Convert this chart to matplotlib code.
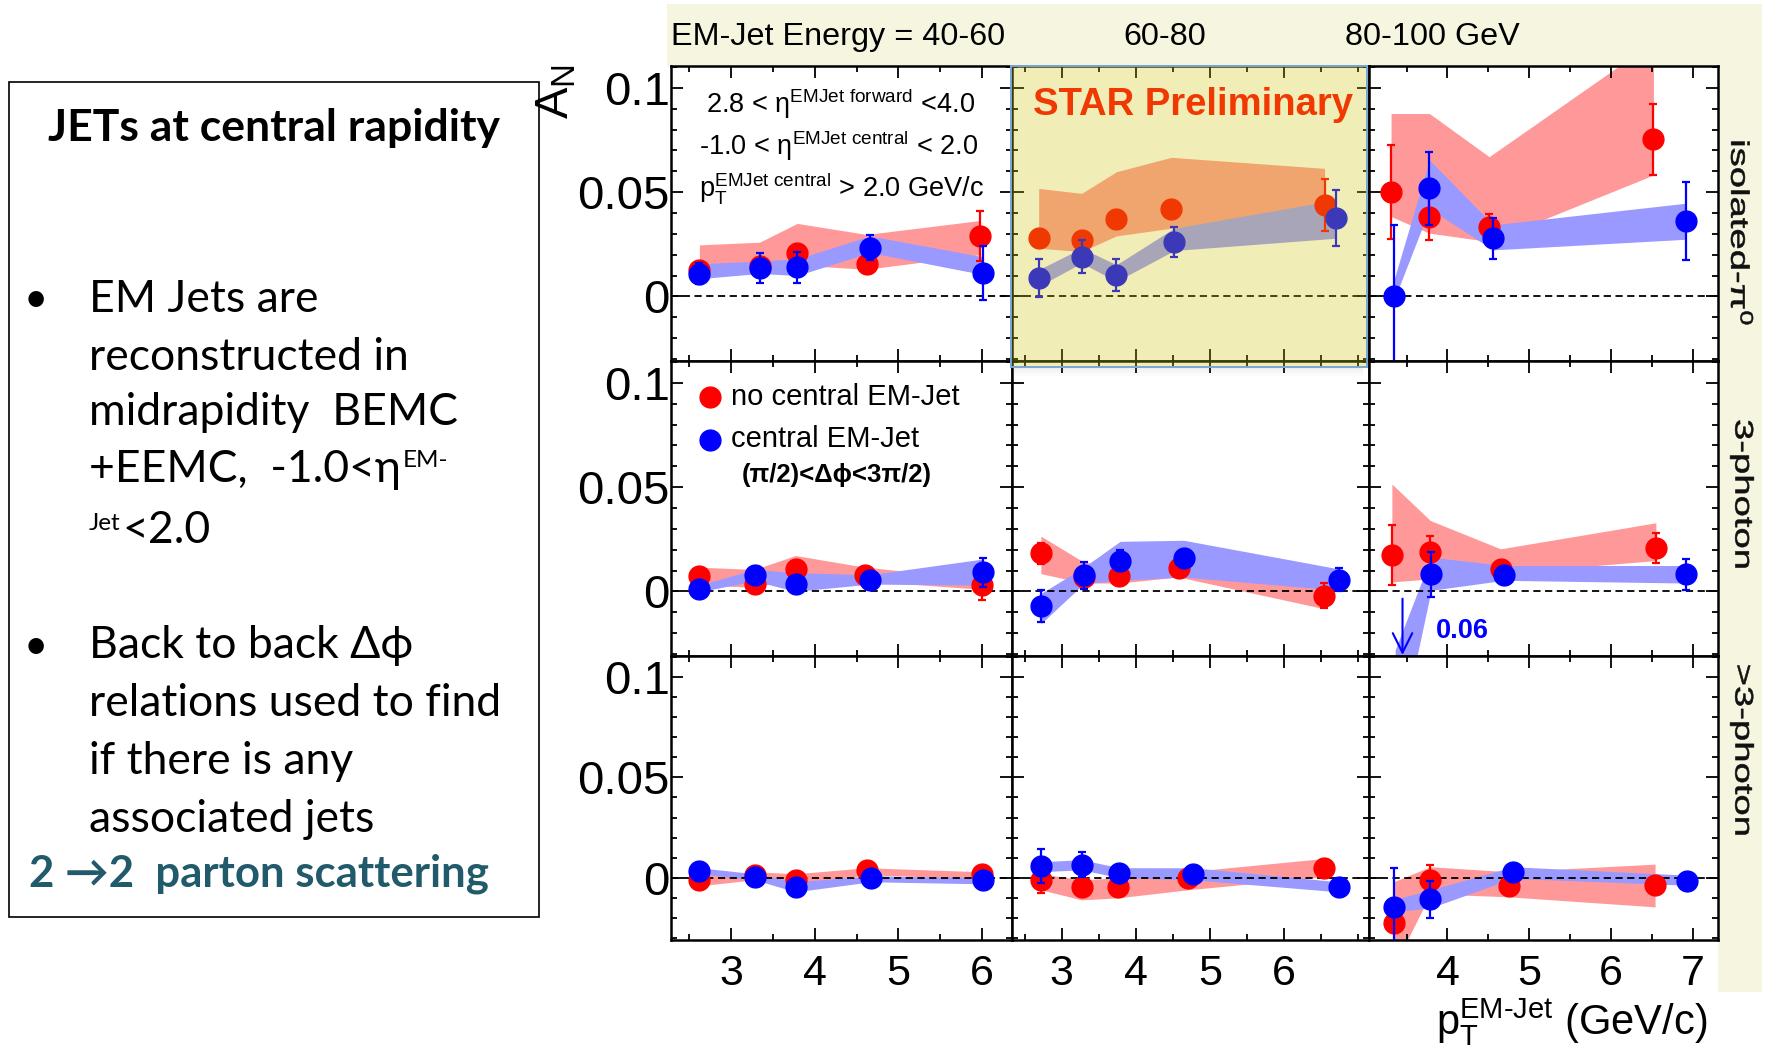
import matplotlib
matplotlib.use('Agg')
import matplotlib.pyplot as plt
from matplotlib.patches import Rectangle, PathPatch
from matplotlib.textpath import TextPath
from matplotlib.font_manager import FontProperties
from matplotlib.transforms import Affine2D
from matplotlib.ticker import MultipleLocator
from matplotlib.text import Annotation

W, H = 1771, 1051

plt.rcParams['font.family'] = ['Liberation Sans', 'DejaVu Sans']
plt.rcParams['mathtext.fontset'] = 'custom'
plt.rcParams['mathtext.rm'] = 'Liberation Sans'
plt.rcParams['mathtext.it'] = 'Liberation Sans:italic'
plt.rcParams['mathtext.bf'] = 'Liberation Sans:bold'

# columns: EM-jet energy bins, rows: photon multiplicity classes
energy_bins = ['EM-Jet Energy = 40-60', '60-80', '80-100 GeV']
photon_classes = [r'isolated-$\mathregular{π^0}$', '3-photon', '>3-photon']
xticks = [[3, 4, 5, 6], [3, 4, 5, 6], [4, 5, 6, 7]]
yticks = [0, 0.05, 0.1]
ytick_labels = ['0', '0.05', '0.1']

# "no central EM-Jet" (red) ; [row][col]
red_pt = [
    [[2.62, 3.34, 3.79, 4.62, 5.98], [2.69, 3.27, 3.74, 4.48, 6.55], [3.31, 3.78, 4.51, 6.52]],
    [[2.62, 3.28, 3.77, 4.60, 6.00], [2.72, 3.30, 3.78, 4.58, 6.54], [3.32, 3.79, 4.65, 6.55]],
    [[2.62, 3.28, 3.77, 4.62, 6.00], [2.72, 3.27, 3.76, 4.70, 6.54], [3.34, 3.79, 4.75, 6.54]],
]
red_an = [
    [[0.0128, 0.0148, 0.0207, 0.0156, 0.029], [0.0282, 0.0271, 0.0372, 0.0418, 0.0439], [0.0499, 0.038, 0.0332, 0.0753]],
    [[0.0072, 0.0037, 0.0108, 0.008, 0.0029], [0.0183, 0.0069, 0.0072, 0.0113, -0.0021], [0.0175, 0.019, 0.0108, 0.0207]],
    [[-0.0012, 0.0013, -0.0012, 0.0038, 0.0018], [-0.0012, -0.0048, -0.0045, -0.0003, 0.0051], [-0.0224, -0.0012, -0.0042, -0.0037]],
]
red_err = [
    [[0.002, 0.003, 0.003, 0.003, 0.012], [0.003, 0.003, 0.003, 0.003, 0.0126], [0.0226, 0.011, 0.0062, 0.017]],
    [[0.002, 0.002, 0.002, 0.002, 0.007], [0.005, 0.003, 0.002, 0.003, 0.006], [0.0145, 0.0075, 0.002, 0.0072]],
    [[0.0015, 0.0015, 0.0015, 0.0015, 0.0015], [0.0065, 0.002, 0.002, 0.002, 0.002], [0.002, 0.0075, 0.002, 0.002]],
]
red_lo = [
    [[0.011, 0.012, 0.015, 0.013, 0.020], [0.0231, 0.0215, 0.029, 0.0327, 0.040], [0.0383, 0.0303, 0.0263, 0.0582]],
    [[0.003, 0.002, 0.006, 0.005, 0.001], [0.0085, 0.004, 0.004, 0.0069, -0.0083], [0.0045, 0.006, 0.0085, 0.0148]],
    [[-0.004, -0.001, -0.004, 0.0015, -0.0005], [-0.006, -0.011, -0.010, -0.006, 0.0005], [-0.045, -0.008, -0.0095, -0.0145]],
]
red_hi = [
    [[0.0247, 0.026, 0.035, 0.0297, 0.0364], [0.0518, 0.0494, 0.0598, 0.0667, 0.0614], [0.0877, 0.0877, 0.067, 0.122]],
    [[0.0116, 0.0105, 0.0172, 0.0116, 0.006], [0.0265, 0.014, 0.012, 0.016, 0.002], [0.0515, 0.034, 0.0204, 0.0329]],
    [[0.0015, 0.003, 0.002, 0.005, 0.003], [0.002, -0.001, 0.0, 0.003, 0.0096], [-0.002, 0.0055, 0.003, 0.0068]],
]

# "central EM-Jet" (blue) ; [row][col]
blue_pt = [
    [[2.62, 3.34, 3.79, 4.66, 6.01], [2.69, 3.27, 3.74, 4.52, 6.71], [3.34, 3.78, 4.56, 6.92]],
    [[2.62, 3.28, 3.77, 4.66, 6.01], [2.72, 3.30, 3.79, 4.65, 6.74], [3.36, 3.80, 4.69, 6.92]],
    [[2.62, 3.28, 3.77, 4.67, 6.01], [2.72, 3.27, 3.78, 4.77, 6.74], [3.34, 3.79, 4.80, 6.93]],
]
blue_an = [
    [[0.0108, 0.0136, 0.014, 0.0234, 0.0112], [0.0088, 0.0191, 0.0104, 0.0263, 0.0375], [0.0, 0.0518, 0.0279, 0.0362]],
    [[0.0013, 0.0077, 0.0037, 0.0053, 0.0091], [-0.007, 0.0077, 0.0148, 0.016, 0.0056], [-0.06, 0.0081, 0.0077, 0.0081]],
    [[0.0033, 0.0005, -0.0048, -0.0003, -0.0012], [0.0058, 0.0066, 0.0025, 0.0018, -0.0045], [-0.0145, -0.0108, 0.0027, -0.0015]],
]
blue_err = [
    [[0.005, 0.007, 0.0074, 0.006, 0.013], [0.009, 0.0078, 0.0076, 0.0072, 0.0133], [0.034, 0.0175, 0.0098, 0.0187]],
    [[0.002, 0.003, 0.002, 0.002, 0.0068], [0.0076, 0.0064, 0.005, 0.003, 0.0056], [0.0, 0.0108, 0.002, 0.0076]],
    [[0.0015, 0.0015, 0.0015, 0.0015, 0.0015], [0.0083, 0.0062, 0.002, 0.002, 0.002], [0.0196, 0.0094, 0.002, 0.002]],
]
blue_lo = [
    [[0.0085, 0.011, 0.010, 0.021, 0.0105], [0.0048, 0.016, 0.0072, 0.022, 0.0279], [-0.0024, 0.042, 0.0223, 0.0274]],
    [[-0.0002, 0.005, 0.0, 0.0035, 0.003], [-0.0155, 0.0037, 0.0053, 0.0069, 0.0005], [-0.08, 0.0005, 0.0053, 0.004]],
    [[0.002, -0.001, -0.007, -0.002, -0.003], [0.003, 0.004, 0.0, -0.001, -0.007], [-0.017, -0.015, -0.0003, -0.0037]],
]
blue_hi = [
    [[0.0156, 0.017, 0.018, 0.029, 0.019], [0.0128, 0.0231, 0.0152, 0.0327, 0.0463], [0.0072, 0.0654, 0.0343, 0.0447]],
    [[0.003, 0.0105, 0.009, 0.008, 0.0155], [-0.001, 0.0116, 0.024, 0.0245, 0.0108], [-0.028, 0.0164, 0.0124, 0.0124]],
    [[0.005, 0.002, -0.002, 0.001, 0.0], [0.008, 0.009, 0.005, 0.005, -0.002], [-0.011, -0.006, 0.0055, 0.0013]],
]

# off-scale blue point (3-photon, 80-100 GeV)
offscale_pt = 3.45
offscale_label = '0.06'

# layout in pixels
col_px = [(671, 1012), (1012, 1369), (1369, 1718)]
row_px = [(66, 361), (361, 656), (656, 940)]
xlims = [(2.28, 6.36), (2.33, 7.15), (3.04, 7.31)]
ylim = (-0.031, 0.1105)


def fx(x):
    return x / W


def fy(y):
    return 1 - y / H


fig = plt.figure(figsize=(W / 100, H / 100), dpi=100)

# cream header strip
fig.add_artist(Rectangle((fx(667), fy(66)), (1762 - 667) / W, 62 / H, transform=fig.transFigure,
                         facecolor='#f6f5e0', lw=0, zorder=-1))
fig.add_artist(Rectangle((fx(1718), fy(992)), 44 / W, (992 - 66) / H, transform=fig.transFigure,
                         facecolor='#f6f5e0', lw=0, zorder=-1))

axes = {}
for i in range(3):
    for j in range(3):
        x0, x1 = col_px[j]
        y0, y1 = row_px[i]
        ax = fig.add_axes([fx(x0), fy(y1), (x1 - x0) / W, (y1 - y0) / H])
        axes[i, j] = ax
        ax.fill_between(red_pt[i][j], red_lo[i][j], red_hi[i][j], color='#ff9999', lw=0, zorder=1)
        ax.fill_between(blue_pt[i][j], blue_lo[i][j], blue_hi[i][j], color='#9999ff', lw=0, zorder=2)
        ax.axhline(0, color='black', lw=1.3, ls=(0, (4, 2.5)), zorder=2.5)
        ax.errorbar(red_pt[i][j], red_an[i][j], yerr=red_err[i][j], fmt='o', color='red', ms=15,
                    elinewidth=1.6, capsize=3, capthick=1.6, zorder=3)
        ax.errorbar(blue_pt[i][j], blue_an[i][j], yerr=blue_err[i][j], fmt='o', color='blue', ms=15,
                    elinewidth=1.6, capsize=3, capthick=1.6, zorder=4)
        ax.set_xlim(*xlims[j])
        ax.set_ylim(*ylim)
        ax.set_xticks(xticks[j])
        ax.xaxis.set_minor_locator(MultipleLocator(0.5))
        ax.set_yticks(yticks)
        ax.yaxis.set_minor_locator(MultipleLocator(0.01))
        ax.tick_params(which='both', direction='in', top=True, right=True, width=1.3)
        ax.tick_params(which='major', length=8.5)
        ax.tick_params(which='minor', length=4.3)
        ax.tick_params(axis='x', labelsize=31, pad=10)
        ax.tick_params(axis='y', labelsize=34, pad=1)
        for s in ax.spines.values():
            s.set_linewidth(1.8)
        if j == 0:
            ax.set_yticklabels(ytick_labels)
        else:
            ax.set_yticklabels([])
        if i < 2:
            ax.set_xticklabels([])

# eta / pT selection text
ax = axes[0, 0]
ax.text(0.103, 0.841, r'2.8 < $\mathregular{η^{EMJet\ forward}}$ <4.0', transform=ax.transAxes,
        fontsize=19.5, va='baseline')
ax.text(0.082, 0.698, r'-1.0 < $\mathregular{η^{EMJet\ central}}$ < 2.0', transform=ax.transAxes,
        fontsize=19.5, va='baseline')
ax.text(0.082, 0.556, r'$\mathregular{p_T^{EMJet\ central}}$ > 2.0 GeV/c', transform=ax.transAxes,
        fontsize=19.5, va='baseline')

# legend
ax = axes[1, 0]
ax.plot([0.114], [0.879], 'o', color='red', ms=15, transform=ax.transAxes)
ax.plot([0.114], [0.732], 'o', color='blue', ms=15, transform=ax.transAxes)
ax.text(0.176, 0.851, 'no central EM-Jet', transform=ax.transAxes, fontsize=21, va='baseline')
ax.text(0.176, 0.708, 'central EM-Jet', transform=ax.transAxes, fontsize=21, va='baseline')
ax.text(0.208, 0.59, '(π/2)<Δϕ<3π/2)', transform=ax.transAxes, fontsize=18.5, fontweight='bold',
        va='baseline')

axes[0, 1].text(0.059, 0.834, 'STAR Preliminary', transform=axes[0, 1].transAxes, fontsize=27.5,
                fontweight='bold', color='red', va='baseline')

# off-scale arrow
ax = axes[1, 2]
ax.annotate('', xy=(offscale_pt, ylim[0] + 0.0005), xytext=(offscale_pt, -0.0035),
            arrowprops=dict(arrowstyle='->,head_length=14,head_width=7', mutation_scale=1,
                            lw=1.5, color='blue', shrinkA=0, shrinkB=0),
            annotation_clip=False)
ax.text(3.86, -0.019, offscale_label, color='blue', fontsize=19.5, fontweight='bold', va='center')

# highlight box over 60-80 GeV isolated panel
fig.add_artist(Rectangle((fx(1011), fy(367)), (1367 - 1011) / W, (367 - 66) / H, transform=fig.transFigure,
                         facecolor=(204 / 255, 197 / 255, 10 / 255), alpha=0.294, lw=0, zorder=5))
fig.add_artist(Rectangle((fx(1011), fy(367)), (1367 - 1011) / W, (367 - 66) / H, transform=fig.transFigure,
                         fill=False, ec='#7aa5d5', lw=1.4, zorder=6))
for k, a in enumerate([0.12, 0.07, 0.03]):
    fig.add_artist(Rectangle((fx(1013), fy(370 + 3 * k)), (1363 - 1013) / W, 3 / H,
                             transform=fig.transFigure, facecolor='gray', alpha=a, lw=0, zorder=5))

# header and axis titles
header_x = [671, 1123, 1345]
for k in range(3):
    fig.text(fx(header_x[k]), fy(45), energy_bins[k], fontsize=23.3, va='baseline', ha='left')

fig.text(fx(556), fy(64), r'$\mathregular{A_N}$', rotation=90, ha='center', va='top', fontsize=34)
fig.text(fx(1707), fy(1035), r'$\mathregular{p_T^{EM\text{-}Jet}}$ (GeV/c)', fontsize=30,
         ha='right', va='baseline')


def side_label(s, cx, cy):
    tp = TextPath((0, 0), s, size=25.5, prop=FontProperties(family='Liberation Sans'))
    e = tp.get_extents()
    tr = (Affine2D().translate(-(e.x0 + e.x1) / 2, -(e.y0 + e.y1) / 2)
          .scale(1.5, 1.0).rotate_deg(-90).translate(cx, H - cy))
    fig.add_artist(PathPatch(tp, transform=tr, facecolor='#111111', edgecolor='#111111', lw=0.4))


side_y = [233, 494, 750]
for k in range(3):
    side_label(photon_classes[k], 1742, side_y[k])

# left text box
box_font = ['Lato', 'DejaVu Sans']
fig.add_artist(Rectangle((fx(9), fy(917)), 530 / W, (917 - 82) / H, transform=fig.transFigure,
                         fill=False, ec='black', lw=1.2))
fig.text(fx(274), fy(141.5), 'JETs at central rapidity', ha='center', va='baseline', fontsize=32,
         fontweight='bold', family=box_font)
body = [('EM Jets are', 312), ('reconstructed in', 370), ('midrapidity  BEMC', 425),
        ('+EEMC,  -1.0<η', 482.5), ('Back to back Δϕ', 658.5), ('relations used to find', 716),
        ('if there is any', 774), ('associated jets', 832)]
line_art = {}
for s, yb in body:
    line_art[s] = fig.text(fx(89), fy(yb), s, fontsize=32, va='baseline', family=box_font)
for yb in [312, 658.5]:
    fig.text(fx(36), fy(yb), '•', fontsize=30, va='baseline', ha='center', family=box_font)
fig.add_artist(Annotation('EM-', xy=(1.0, fy(467)), xycoords=(line_art['+EEMC,  -1.0<η'], 'figure fraction'),
                          xytext=(1, 0), textcoords='offset points', fontsize=17.5, va='baseline',
                          ha='left', family=box_font))
jet_sup = fig.text(fx(89), fy(530), 'Jet', fontsize=17.5, va='baseline', family=box_font)
fig.add_artist(Annotation('<2.0', xy=(1.0, fy(543)), xycoords=(jet_sup, 'figure fraction'),
                          xytext=(1, 0), textcoords='offset points', fontsize=32, va='baseline',
                          ha='left', family=box_font))
fig.text(fx(29), fy(886.7), '2 →2  parton scattering', fontsize=31.5, fontweight='bold', color='#215a6a',
         va='baseline', family=box_font)

fig.savefig('out.png', dpi=100)
